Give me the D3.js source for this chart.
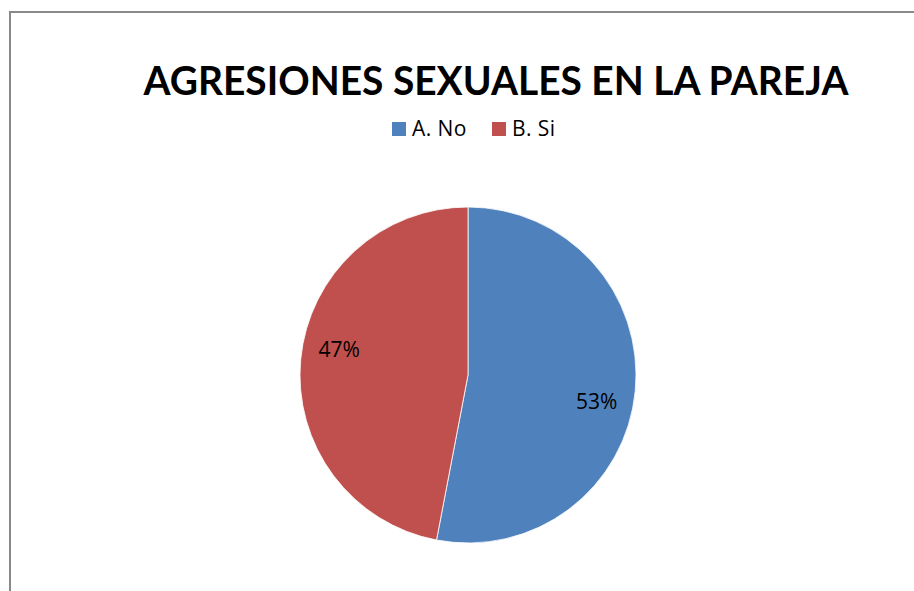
<!DOCTYPE html>
<html>
<head>
<meta charset="utf-8">
<script src="https://cdn.jsdelivr.net/npm/d3@7"></script>
<style>
  html, body { margin: 0; padding: 0; background: #fff; }
  svg { display: block; }
</style>
</head>
<body>
<svg id="chart" width="914" height="591"></svg>
<script>
// Chart content
const title = "AGRESIONES SEXUALES EN LA PAREJA";
const categories = ["A. No", "B. Si"];
const values = [53, 47];
const colors = ["#4F81BD", "#C0504D"];

const svg = d3.select("#chart");
const W = 914, H = 591;

// Outer frame (runs off the right and bottom edges)
svg.append("rect")
  .attr("x", 10).attr("y", 12)
  .attr("width", W + 20).attr("height", H + 20)
  .attr("fill", "#fff")
  .attr("stroke", "#898989")
  .attr("stroke-width", 2);

// Title
svg.append("text")
  .attr("x", 496).attr("y", 95)
  .attr("text-anchor", "middle")
  .attr("font-family", "Lato, 'Open Sans', sans-serif")
  .attr("font-weight", 700)
  .attr("font-size", 41)
  .attr("textLength", 705)
  .attr("lengthAdjust", "spacingAndGlyphs")
  .attr("fill", "#000")
  .text(title);

// Legend
const color = d3.scaleOrdinal().domain(categories).range(colors);
const legendX = [392, 492];
const legend = svg.append("g");
categories.forEach((c, i) => {
  const g = legend.append("g").attr("transform", `translate(${legendX[i]},122)`);
  g.append("rect").attr("width", 14).attr("height", 14).attr("fill", color(c));
  g.append("text")
    .attr("x", 20).attr("y", 14)
    .attr("font-family", "'Open Sans', Lato, sans-serif")
    .attr("font-size", 21)
    .attr("letter-spacing", 0.4)
    .attr("fill", "#000")
    .text(c);
});

// Pie
const cx = 468, cy = 375, r = 168;
const pie = d3.pie().sort(null).value(d => d.value);
const data = pie(categories.map((c, i) => ({ cat: c, value: values[i] })));
const arc = d3.arc().innerRadius(0).outerRadius(r);
const labelArc = d3.arc().innerRadius(r * 0.77).outerRadius(r * 0.77);
const total = d3.sum(values);

const g = svg.append("g").attr("transform", `translate(${cx},${cy})`);
g.selectAll("path.slice")
  .data(data)
  .join("path")
  .attr("class", "slice")
  .attr("d", arc)
  .attr("fill", d => color(d.data.cat))
  .attr("stroke", "#fff")
  .attr("stroke-width", 0.8);

g.selectAll("text.pct")
  .data(data)
  .join("text")
  .attr("class", "pct")
  .attr("transform", d => {
    const [x, y] = labelArc.centroid(d);
    const dy = (d.startAngle + d.endAngle) / 2 < Math.PI ? 14 : -13;
    return `translate(${x},${y + dy})`;
  })
  .attr("text-anchor", "middle")
  .attr("dy", "0.35em")
  .attr("font-family", "'Open Sans', Lato, sans-serif")
  .attr("font-size", 21)
  .attr("fill", "#000")
  .text(d => Math.round(d.data.value / total * 100) + "%");
</script>
</body>
</html>
